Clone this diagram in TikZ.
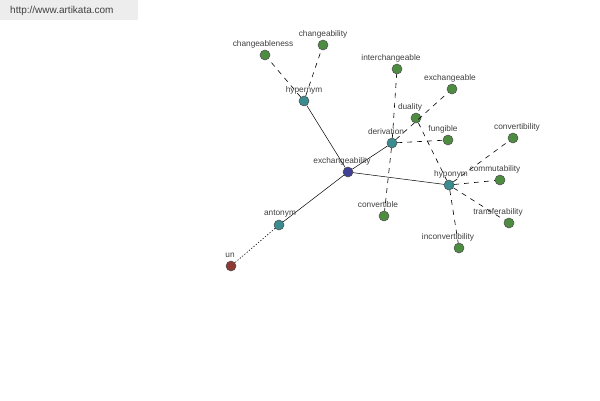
\documentclass[tikz,border=0pt]{standalone}
\usepackage{fontspec}
\setmainfont{Liberation Sans}
\definecolor{cgrn}{RGB}{78,140,66}
\definecolor{ctl}{RGB}{58,140,145}
\definecolor{cblu}{RGB}{64,64,150}
\definecolor{cred}{RGB}{140,58,52}
\begin{document}
\begin{tikzpicture}[x=1pt,y=-1pt,
  nd/.style={circle,draw=black!70,line width=0.5pt,minimum size=10pt,inner sep=0pt},
  grn/.style={nd,fill=cgrn},
  tl/.style={nd,fill=ctl},
  lb/.style={font=\fontsize{8.3}{9}\selectfont,text=black!75,inner sep=0pt},
  sol/.style={draw=black,line width=0.5pt},
  dsh/.style={draw=black,line width=0.6pt,dash pattern=on 5pt off 5pt},
  dot/.style={draw=black,line width=0.6pt,dash pattern=on 1.2pt off 1.8pt}]
\useasboundingbox (0,0) rectangle (600,400);
\fill[white] (0,0) rectangle (600,400);
\fill[black!7] (0,0) rectangle (138,20);
\node[anchor=west,font=\fontsize{10}{12}\selectfont,text=black!75,inner sep=0pt] (url) at (10,11) {http://www.artikata.com};
% nodes
\node[nd,fill=cblu] (ex) at (348,172) {};
\node[tl] (hyper) at (304,101) {};
\node[grn] (chn) at (265,55) {};
\node[grn] (chb) at (323,45) {};
\node[tl] (der) at (392,143) {};
\node[grn] (int) at (397,69) {};
\node[grn] (exc) at (452,89) {};
\node[grn] (dua) at (416,118) {};
\node[grn] (fun) at (448,140) {};
\node[grn] (cvb) at (384,216) {};
\node[tl] (hypo) at (449,185) {};
\node[grn] (cvt) at (513,138) {};
\node[grn] (com) at (500,180) {};
\node[grn] (tra) at (509,223) {};
\node[grn] (inc) at (459,248) {};
\node[tl] (ant) at (279,225) {};
\node[nd,fill=cred] (un) at (231,266) {};
% edges
\draw[sol] (ex) -- (hyper);
\draw[sol] (ex) -- (der);
\draw[sol] (ex) -- (hypo);
\draw[sol] (ex) -- (ant);
\draw[dot] (ant) -- (un);
\draw[dsh] (hyper) -- (chn);
\draw[dsh] (hyper) -- (chb);
\draw[dsh] (der) -- (int);
\draw[dsh] (der) -- (exc);
\draw[dsh] (der) -- (fun);
\draw[dsh] (der) -- (cvb);
\draw[dsh] (dua) -- (hypo);
\draw[dsh] (hypo) -- (cvt);
\draw[dsh] (hypo) -- (com);
\draw[dsh] (hypo) -- (tra);
\draw[dsh] (hypo) -- (inc);
% labels
\node[lb] (lex) at (342,161) {exchangeability};
\node[lb] (lhyper) at (304,90) {hypernym};
\node[lb] (lchn) at (263,44) {changeableness};
\node[lb] (lchb) at (323,34) {changeability};
\node[lb] (lder) at (386,132) {derivation};
\node[lb] (lint) at (391,58) {interchangeable};
\node[lb] (lexc) at (450,78) {exchangeable};
\node[lb] (ldua) at (410,107) {duality};
\node[lb] (lfun) at (443,129) {fungible};
\node[lb] (lcvb) at (378,205) {convertible};
\node[lb] (lhypo) at (451,174) {hyponym};
\node[lb] (lcvt) at (517,127) {convertibility};
\node[lb] (lcom) at (495,169) {commutability};
\node[lb] (ltra) at (498,212) {transferability};
\node[lb] (linc) at (448,237) {inconvertibility};
\node[lb] (lant) at (280,214) {antonym};
\node[lb] (lun) at (230,255) {un};
\end{tikzpicture}
\end{document}
